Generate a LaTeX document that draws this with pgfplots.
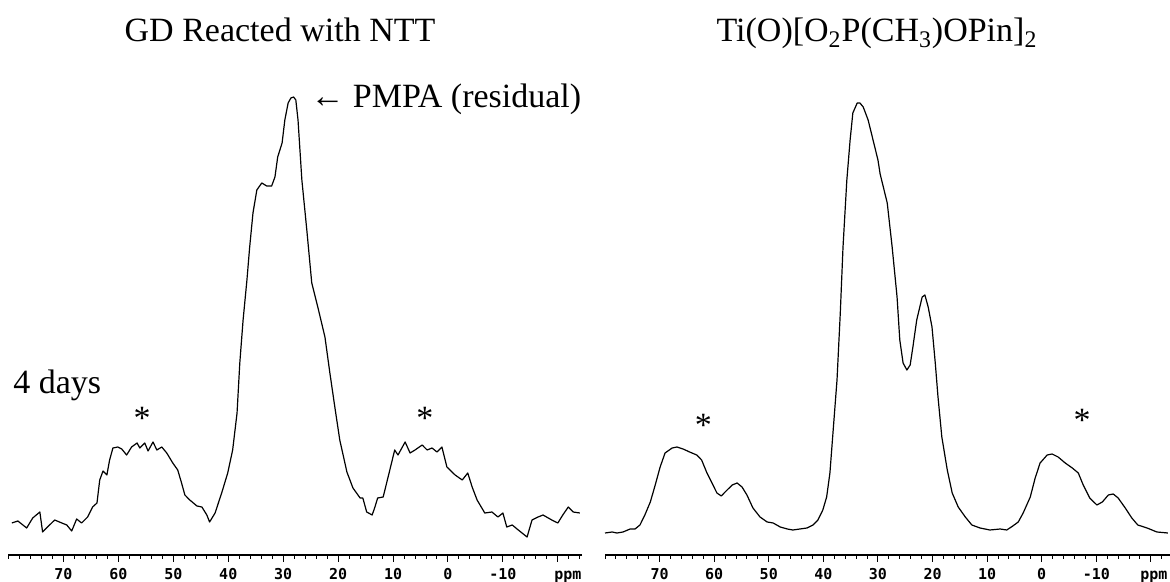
\documentclass[border=0pt]{standalone}
\usepackage{fontspec}
\setmainfont{Liberation Serif}
\newfontfamily\tickfont{DejaVu Sans Mono}
\usepackage{pgfplots}
\pgfplotsset{compat=1.18}

% 1 px of the reference = 0.5pt
\tikzset{lab/.style={font=\fontsize{17}{20}\selectfont}}
\pgfplotsset{nmr/.style={
    scale only axis,
    x dir=reverse,
    ymin=0, ymax=475,
    height=237.5pt,
    axis x line*=bottom,
    hide y axis,
    clip=false,
    xtick={70,60,50,40,30,20,10,0,-10,-20},
    minor xtick={-34,-32,...,80},
    tick align=outside,
    major tick length=3.5pt,
    minor tick length=2pt,
    every tick/.style={black, line width=0.5pt},
    axis line style={line width=0.6pt},
    xticklabel style={font=\tickfont\bfseries\fontsize{7.5}{8}\selectfont,
        inner sep=1pt, text height=0.75em, text depth=0.25em},
}}

\begin{document}
\begin{tikzpicture}
\useasboundingbox (0,0) rectangle (585pt,291pt);

% left panel
\begin{axis}[nmr, at={(4pt,13.5pt)}, anchor=south west, width=287pt,
    xmin=-24.4, xmax=80.1,
    xticklabels={70,60,50,40,30,20,10,0,-10,\hspace*{10pt}ppm}]
\addplot[black, no markers, line width=0.6pt, line join=round] coordinates {
(79.4,32) (78.3,34) (76.7,27) (75.6,37) (74.3,43) (73.8,23) (72.9,28) (71.6,35)
(70.3,32) (69.4,30) (68.5,24) (67.6,36) (66.7,32) (65.6,38) (64.7,48) (63.9,52)
(63.4,75) (62.8,84) (62.1,80) (61.6,95) (61.0,107) (60.1,108) (59.4,106) (58.5,100)
(57.6,108) (56.6,112) (56.1,107) (55.2,112) (54.6,104) (53.7,113) (53.0,105) (52.1,108)
(51.2,102) (50.1,92) (49.2,85) (48.5,72) (47.9,60) (47.0,55) (45.7,49) (44.8,48)
(43.9,40) (43.4,33) (42.4,42) (41.2,62) (40.1,82) (39.2,105) (38.4,142) (37.9,192)
(37.3,235) (36.6,275) (36.1,308) (35.5,342) (34.8,365) (33.9,372) (33.0,369) (32.1,369)
(31.5,378) (31.0,398) (30.2,412) (29.7,435) (29.1,452) (28.6,457) (28.1,458) (27.7,455)
(27.3,435) (26.6,375) (25.7,325) (24.8,272) (23.7,248) (22.4,218) (21.5,182) (20.6,148)
(19.7,115) (18.4,83) (17.3,67) (16.0,57) (15.5,57) (14.8,43) (13.8,40) (13.3,48)
(12.8,57) (11.8,58) (10.9,78) (9.7,105) (9.1,100) (7.8,113) (6.9,102) (6.0,105)
(4.7,110) (3.8,105) (2.9,107) (2.0,103) (1.1,108) (0.2,88) (-1.3,80) (-2.6,75)
(-3.6,82) (-4.4,68) (-5.3,55) (-6.7,42) (-8.0,43) (-9.1,38) (-10.0,42) (-10.7,28)
(-11.7,30) (-12.8,25) (-14.4,18) (-15.3,35) (-16.4,38) (-17.3,40) (-18.9,35) (-20.0,32)
(-20.9,40) (-21.9,48) (-22.8,43) (-24.0,42)
};
\node[lab, anchor=base west, inner sep=0pt] at (axis cs:79.2,161) {4 days};
\node[lab, anchor=base] at (axis cs:55.7,125) {*};
\node[lab, anchor=base] at (axis cs:4.2,125) {*};
\node[lab, anchor=base west, inner sep=0pt] at (axis cs:25.1,447) {← PMPA (residual)};
\end{axis}

% right panel
\begin{axis}[nmr, at={(302.5pt,13.5pt)}, anchor=south west, width=282.5pt,
    xmin=-23.5, xmax=80.0,
    xticklabels={70,60,50,40,30,20,10,0,-10,\hspace*{3pt}ppm}]
\addplot[black, no markers, line width=0.6pt, line join=round] coordinates {
(80.0,22) (78.7,23) (77.8,22) (76.7,23) (75.4,26) (74.5,26) (73.6,30) (72.7,40)
(71.7,53) (70.8,70) (69.9,88) (69.0,102) (67.7,107) (66.8,108) (65.7,106) (64.5,103)
(63.2,100) (62.3,95) (61.4,83) (60.4,72) (59.5,62) (58.7,59) (58.0,63) (56.7,70)
(55.8,72) (54.9,68) (54.0,60) (52.9,47) (51.6,38) (50.3,33) (49.2,32) (47.9,28)
(46.6,26) (45.6,25) (44.3,26) (43.0,27) (41.9,30) (41.0,35) (40.1,45) (39.4,58)
(38.8,82) (38.2,125) (37.5,175) (36.9,242) (36.4,308) (35.7,375) (35.1,415) (34.6,442)
(33.8,452) (33.3,452) (32.7,448) (31.8,435) (30.9,415) (30.0,395) (29.6,381) (28.3,352)
(27.4,308) (26.5,258) (26.0,215) (25.4,192) (24.7,185) (24.1,190) (23.6,208) (22.9,235)
(21.9,258) (21.4,260) (20.8,248) (20.1,228) (19.5,192) (19.0,158) (18.3,118) (17.3,85)
(16.4,62) (15.3,48) (14.0,38) (12.8,30) (11.3,27) (9.5,25) (7.6,26) (6.4,25)
(5.3,29) (4.3,33) (3.4,42) (2.1,58) (1.2,77) (0.3,92) (-1.0,100) (-1.9,101)
(-3.0,98) (-4.3,92) (-5.6,87) (-6.7,82) (-7.6,70) (-8.8,57) (-10.1,50) (-11.1,53)
(-12.2,60) (-13.1,61) (-14.0,57) (-15.3,47) (-16.5,37) (-17.6,30) (-19.3,27) (-21.1,23)
(-23.1,22)
};
\node[lab, anchor=base] at (axis cs:62.0,118) {*};
\node[lab, anchor=base] at (axis cs:-7.4,123) {*};
\end{axis}

\node[lab, anchor=base] at (140pt,270pt) {GD Reacted with NTT};
\node[lab, anchor=base] at (438.5pt,270pt)
  {Ti(O)[O\textsubscript{2}P(CH\textsubscript{3})OPin]\textsubscript{2}};
\end{tikzpicture}
\end{document}
